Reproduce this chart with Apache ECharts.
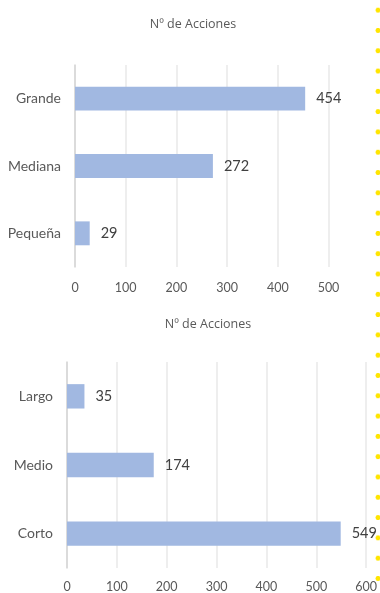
<!DOCTYPE html>
<html>
<head>
<meta charset="utf-8">
<title>Nº de Acciones</title>
<script src="https://cdn.jsdelivr.net/npm/echarts@6/dist/echarts.min.js"></script>
<style>
  html, body { margin: 0; padding: 0; background: #fff; }
  #wrap { position: relative; width: 380px; height: 593px; overflow: hidden; }
  #chart { position: absolute; left: 0; top: 0; width: 380px; height: 593px; }
  /* dotted yellow separator on the right edge */
  #sep {
    position: absolute; left: 375px; top: 0px; width: 6px; height: 593px;
    background-image: radial-gradient(circle, #ffe500 2.2px, rgba(255,229,0,0) 2.8px);
    background-size: 6px 20.3px;
    background-repeat: repeat-y;
    background-position: 0 0;
  }
</style>
</head>
<body>
<div id="wrap">
  <div id="chart"></div>
  <div id="sep"></div>
</div>
<script>
// Acciones por tamaño de empresa
const sizeCategories = ['Grande', 'Mediana', 'Pequeña'];
const sizeValues = [454, 272, 29];
const sizeTicks = [0, 100, 200, 300, 400, 500];

// Acciones por plazo
const termCategories = ['Largo', 'Medio', 'Corto'];
const termValues = [35, 174, 549];
const termTicks = [0, 100, 200, 300, 400, 500, 600];

const titleText = 'Nº de Acciones';

const FONT = 'Lato, "Open Sans", sans-serif';
const TITLE_FONT = '"Open Sans", Lato, sans-serif';
const BAR = '#a1b8e1';
const TEXT = '#595959';

function valueAxis(gridIndex, ticks, margin) {
  return {
    type: 'value',
    gridIndex: gridIndex,
    min: ticks[0],
    max: ticks[ticks.length - 1],
    interval: ticks[1] - ticks[0],
    axisLine: { show: false },
    axisTick: { show: false },
    axisLabel: { color: TEXT, fontFamily: FONT, fontSize: 12.5, margin: margin },
    splitLine: { show: true, lineStyle: { color: '#e8e8e8', width: 1.5 } }
  };
}

function categoryAxis(gridIndex, cats) {
  return {
    type: 'category',
    gridIndex: gridIndex,
    data: cats,
    inverse: true,
    axisLine: { show: true, lineStyle: { color: '#d4d4d4', width: 1.5 } },
    axisTick: { show: false },
    axisLabel: { color: TEXT, fontFamily: FONT, fontSize: 14, margin: 14 }
  };
}

function barSeries(idx, values) {
  return {
    type: 'bar',
    xAxisIndex: idx,
    yAxisIndex: idx,
    data: values,
    barWidth: '35.5%',
    itemStyle: { color: BAR },
    label: {
      show: true,
      position: 'right',
      distance: 11,
      color: '#404040',
      fontFamily: FONT,
      fontSize: 14.5
    },
    silent: true
  };
}

const chart = echarts.init(document.getElementById('chart'), null, { renderer: 'canvas' });
chart.setOption({
  animation: false,
  backgroundColor: '#ffffff',
  title: [
    {
      text: titleText, left: 188, top: 13, textAlign: 'center',
      textStyle: { color: TEXT, fontFamily: TITLE_FONT, fontSize: 12.5, fontWeight: 'normal' }
    },
    {
      text: titleText, left: 203, top: 313, textAlign: 'center',
      textStyle: { color: TEXT, fontFamily: TITLE_FONT, fontSize: 12.5, fontWeight: 'normal' }
    }
  ],
  grid: [
    { left: 75, top: 65, width: 253.5, height: 202 },
    { left: 67, top: 362, width: 302.4, height: 207 }
  ],
  xAxis: [
    valueAxis(0, sizeTicks, 14),
    valueAxis(1, termTicks, 12)
  ],
  yAxis: [
    categoryAxis(0, sizeCategories),
    categoryAxis(1, termCategories)
  ],
  series: [
    barSeries(0, sizeValues),
    barSeries(1, termValues)
  ]
});
</script>
</body>
</html>
